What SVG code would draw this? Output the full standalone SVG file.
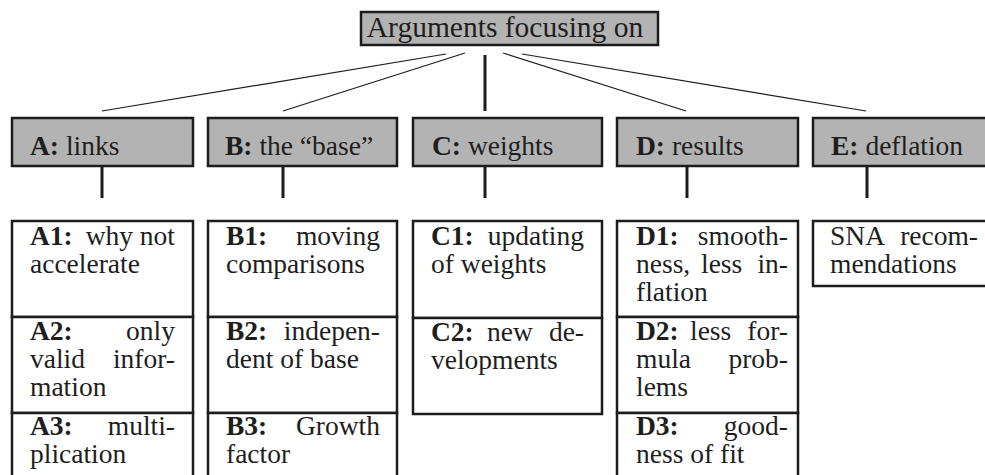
<svg xmlns="http://www.w3.org/2000/svg" width="985" height="475" viewBox="0 0 985 475">
  <style>
    .head { fill: #b3b3b3; stroke: #1c1c1c; stroke-width: 2.5; }
    .cell { fill: #ffffff; stroke: #1c1c1c; stroke-width: 2.5; }
    text { font-family: "Liberation Serif", "Times New Roman", serif; font-size: 27.5px; fill: #1e1e1e; }
    .top { font-size: 29.5px; }
    .b { font-weight: bold; }
    .r { text-anchor: end; }
    .thin { stroke: #1c1c1c; stroke-width: 1.2; fill: none; }
    .thick { stroke: #1c1c1c; stroke-width: 3; fill: none; }
  </style>
  <rect width="985" height="475" fill="#ffffff"/>

  <!-- connectors -->
  <g id="connectors">
    <line class="thin" x1="446" y1="54" x2="102" y2="111"/>
    <line class="thin" x1="465" y1="53" x2="283" y2="111"/>
    <line class="thick" x1="485" y1="55" x2="485" y2="111"/>
    <line class="thin" x1="503" y1="53" x2="686" y2="111"/>
    <line class="thin" x1="522" y1="54" x2="866" y2="111"/>
    <line class="thick" x1="102" y1="167" x2="102" y2="198"/>
    <line class="thick" x1="283" y1="167" x2="283" y2="198"/>
    <line class="thick" x1="485" y1="167" x2="485" y2="198"/>
    <line class="thick" x1="687" y1="167" x2="687" y2="198"/>
    <line class="thick" x1="867" y1="167" x2="867" y2="198"/>
  </g>

  <!-- root -->
  <g id="root">
    <rect class="head" x="361" y="12" width="297" height="33"/>
    <text class="top" x="505" y="37" text-anchor="middle">Arguments focusing on</text>
  </g>

  <!-- second row -->
  <g id="A">
    <rect class="head" x="12" y="118" width="181" height="48"/>
    <text x="30" y="155"><tspan class="b">A:</tspan> links</text>
  </g>
  <g id="B">
    <rect class="head" x="208" y="118" width="189" height="48"/>
    <text x="225" y="155"><tspan class="b">B:</tspan> the “base”</text>
  </g>
  <g id="C">
    <rect class="head" x="413" y="118" width="189" height="48"/>
    <text x="432" y="155"><tspan class="b">C:</tspan> weights</text>
  </g>
  <g id="D">
    <rect class="head" x="617" y="118" width="181" height="48"/>
    <text x="636" y="155"><tspan class="b">D:</tspan> results</text>
  </g>
  <g id="E">
    <rect class="head" x="813" y="118" width="180" height="48"/>
    <text x="831" y="155"><tspan class="b">E:</tspan> deflation</text>
  </g>

  <!-- column A -->
  <g id="A1">
    <rect class="cell" x="12" y="221" width="181" height="96"/>
    <text x="30" y="245" class="b">A1:</text>
    <text x="175" y="245" class="r">why not</text>
    <text x="30" y="273">accelerate</text>
  </g>
  <g id="A2">
    <rect class="cell" x="12" y="317" width="181" height="96"/>
    <text x="30" y="340" class="b">A2:</text>
    <text x="175" y="340" class="r">only</text>
    <text x="30" y="368">valid</text>
    <text x="175" y="368" class="r">infor-</text>
    <text x="30" y="396">mation</text>
  </g>
  <g id="A3">
    <rect class="cell" x="12" y="413" width="181" height="80"/>
    <text x="30" y="435" class="b">A3:</text>
    <text x="175" y="435" class="r">multi-</text>
    <text x="30" y="463">plication</text>
  </g>

  <!-- column B -->
  <g id="B1">
    <rect class="cell" x="208" y="221" width="189" height="96"/>
    <text x="226" y="245" class="b">B1:</text>
    <text x="380" y="245" class="r">moving</text>
    <text x="226" y="273">comparisons</text>
  </g>
  <g id="B2">
    <rect class="cell" x="208" y="317" width="189" height="96"/>
    <text x="226" y="340" class="b">B2:</text>
    <text x="380" y="340" class="r">indepen-</text>
    <text x="226" y="368">dent of base</text>
  </g>
  <g id="B3">
    <rect class="cell" x="208" y="413" width="189" height="80"/>
    <text x="226" y="435" class="b">B3:</text>
    <text x="380" y="435" class="r">Growth</text>
    <text x="226" y="463">factor</text>
  </g>

  <!-- column C -->
  <g id="C1">
    <rect class="cell" x="413" y="221" width="189" height="97"/>
    <text x="431" y="245" class="b">C1:</text>
    <text x="584" y="245" class="r">updating</text>
    <text x="431" y="273">of weights</text>
  </g>
  <g id="C2">
    <rect class="cell" x="413" y="318" width="189" height="96"/>
    <text x="431" y="341" class="b">C2:</text>
    <text x="487" y="341">new</text>
    <text x="584" y="341" class="r">de-</text>
    <text x="431" y="369">velopments</text>
  </g>

  <!-- column D -->
  <g id="D1">
    <rect class="cell" x="617" y="221" width="181" height="96"/>
    <text x="636" y="245" class="b">D1:</text>
    <text x="788" y="245" class="r">smooth-</text>
    <text x="636" y="273">ness,</text>
    <text x="701" y="273">less</text>
    <text x="788" y="273" class="r">in-</text>
    <text x="636" y="301">flation</text>
  </g>
  <g id="D2">
    <rect class="cell" x="617" y="317" width="181" height="96"/>
    <text x="636" y="340" class="b">D2:</text>
    <text x="690" y="340">less</text>
    <text x="788" y="340" class="r">for-</text>
    <text x="636" y="368">mula</text>
    <text x="788" y="368" class="r">prob-</text>
    <text x="636" y="396">lems</text>
  </g>
  <g id="D3">
    <rect class="cell" x="617" y="413" width="181" height="80"/>
    <text x="636" y="435" class="b">D3:</text>
    <text x="788" y="435" class="r">good-</text>
    <text x="636" y="463">ness of fit</text>
  </g>

  <!-- column E -->
  <g id="E1">
    <rect class="cell" x="813" y="221" width="180" height="65"/>
    <text x="830" y="245">SNA</text>
    <text x="978" y="245" class="r">recom-</text>
    <text x="830" y="273">mendations</text>
  </g>
</svg>
